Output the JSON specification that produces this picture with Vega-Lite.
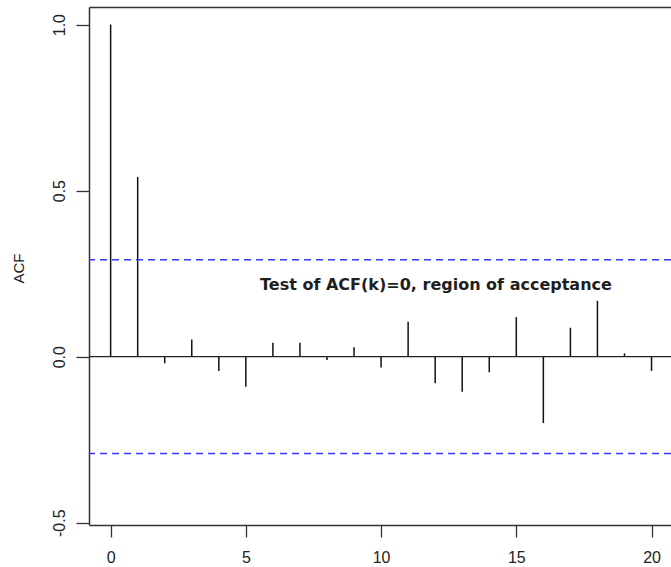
{
  "$schema": "https://vega.github.io/schema/vega-lite/v6.json",
  "width": 582,
  "height": 518,
  "autosize": {"type": "none"},
  "padding": {"left": 89, "top": 7, "right": 0, "bottom": 42},
  "background": "white",
  "config": {
    "view": {"stroke": null},
    "axis": {"grid": false, "domainColor": "#333", "domainWidth": 1.5, "tickColor": "#333", "tickWidth": 1.3, "labelFont": "Liberation Sans", "labelFontSize": 16, "labelColor": "#222", "titleFont": "Liberation Sans", "titleFontSize": 15, "titleFontWeight": "normal", "titleColor": "#222"}
  },
  "datasets": {
    "acf": [
      {"lag": 0, "acf": 1.0},
      {"lag": 1, "acf": 0.541},
      {"lag": 2, "acf": -0.02},
      {"lag": 3, "acf": 0.052},
      {"lag": 4, "acf": -0.043},
      {"lag": 5, "acf": -0.091},
      {"lag": 6, "acf": 0.042},
      {"lag": 7, "acf": 0.042},
      {"lag": 8, "acf": -0.01},
      {"lag": 9, "acf": 0.028},
      {"lag": 10, "acf": -0.033},
      {"lag": 11, "acf": 0.105},
      {"lag": 12, "acf": -0.08},
      {"lag": 13, "acf": -0.106},
      {"lag": 14, "acf": -0.047},
      {"lag": 15, "acf": 0.119},
      {"lag": 16, "acf": -0.2},
      {"lag": 17, "acf": 0.087},
      {"lag": 18, "acf": 0.168},
      {"lag": 19, "acf": 0.01},
      {"lag": 20, "acf": -0.043}
    ],
    "bounds": [{"b": 0.292}, {"b": -0.292}],
    "note": [{"x": 12.03, "y": 0.216, "label": "Test of ACF(k)=0, region of acceptance"}]
  },
  "resolve": {"axis": {"x": "independent"}},
  "layer": [
    {
      "data": {"name": "acf"},
      "mark": {"type": "rule", "color": "#111", "strokeWidth": 1.5},
      "encoding": {
        "x": {"field": "lag", "type": "quantitative", "scale": {"domain": [-0.8, 20.72], "nice": false, "zero": false},
          "axis": {"orient": "bottom", "values": [0, 5, 10, 15, 20], "title": null, "tickSize": 12, "labelPadding": 12, "labelBaseline": "top"}},
        "y": {"field": "acf", "type": "quantitative", "scale": {"domain": [-0.507, 1.053], "nice": false, "zero": false},
          "axis": {"values": [-0.5, 0, 0.5, 1], "labelExpr": "datum.value == -0.5 ? '-0.5' : format(datum.value, '.1f')", "tickSize": 13, "labelAngle": -90, "labelAlign": "center", "labelBaseline": "bottom", "labelPadding": 9, "title": "ACF", "titleAngle": -90, "titleX": -71, "titleY": 261, "titleAlign": "center", "titleBaseline": "middle"}},
        "y2": {"datum": 0}
      }
    },
    {
      "data": {"values": [{"h": 0}]},
      "mark": {"type": "rule", "color": "#222", "strokeWidth": 1.3},
      "encoding": {"y": {"field": "h", "type": "quantitative"}}
    },
    {
      "data": {"name": "bounds"},
      "mark": {"type": "rule", "color": "#3535ff", "strokeWidth": 1.5, "strokeDash": [7, 5]},
      "encoding": {"y": {"field": "b", "type": "quantitative"}}
    },
    {
      "data": {"name": "note"},
      "mark": {"type": "text", "font": "DejaVu Sans", "fontWeight": "bold", "fontSize": 16, "color": "#1e1e1e", "align": "center", "baseline": "middle"},
      "encoding": {
        "x": {"field": "x", "type": "quantitative", "axis": {"orient": "top", "labels": false, "ticks": false, "domain": true, "title": null}},
        "y": {"field": "y", "type": "quantitative"},
        "text": {"field": "label"}
      }
    }
  ]
}
